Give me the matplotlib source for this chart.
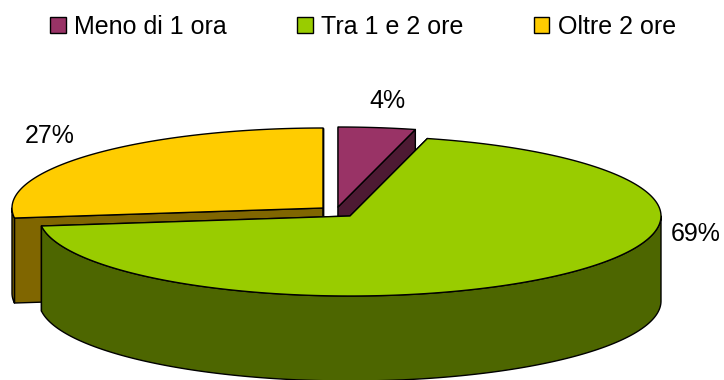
import numpy as np
import matplotlib
matplotlib.use("Agg")
import matplotlib.pyplot as plt
from matplotlib.patches import Patch, Polygon

categories = ["Meno di 1 ora", "Tra 1 e 2 ore", "Oltre 2 ore"]
values = [4, 69, 27]
top_colors = ["#993366", "#99cc00", "#ffcc00"]
side_colors = ["#4d1a33", "#4d6600", "#806600"]

# apex of each slice in pixels, the green one is the reference
apexes = [(338, 207), (350, 216), (323, 208)]
label_pos = [(387, 101), (696, 234), (50, 136)]
RX = 311
RY = 80
DEPTH = 85

plt.rcParams["font.family"] = ["Liberation Sans", "DejaVu Sans"]


def ellipse_points(apex, a0, a1):
    # angles are clockwise from 12 o'clock
    t = np.radians(np.linspace(a0, a1, 200))
    return np.column_stack((apex[0] + RX * np.sin(t), apex[1] - RY * np.cos(t)))


def add_poly(ax, pts, color, z):
    ax.add_patch(Polygon(pts, closed=True, facecolor=color, edgecolor="black",
                         linewidth=1.0, joinstyle="round", zorder=z))


def draw_slice(ax, apex, a0, a1, top, side, z):
    arc = ellipse_points(apex, a0, a1)
    down = np.array([0, DEPTH])
    ap = np.array(apex, dtype=float)

    # cut faces
    for edge in (arc[0], arc[-1]):
        add_poly(ax, [ap, edge, edge + down, ap + down], side, z)
    # outer wall, only the front part of the rim shows
    lo, hi = max(a0, 90), min(a1, 270)
    if lo < hi:
        rim = ellipse_points(apex, lo, hi)
        add_poly(ax, np.vstack((rim, (rim + down)[::-1])), side, z)
    add_poly(ax, np.vstack(([ap], arc)), top, z + 0.5)


fig = plt.figure(figsize=(7.24, 3.8), dpi=100)
ax = fig.add_axes([0, 0, 1, 1])
ax.set_xlim(0, 724)
ax.set_ylim(380, 0)
ax.axis("off")

edges = np.concatenate(([0], np.cumsum(values))) * 3.6
# back slices first, the big green one goes over them
for i, z in zip([2, 0, 1], [1, 2, 3]):
    draw_slice(ax, apexes[i], edges[i], edges[i + 1], top_colors[i], side_colors[i], z)

for v, (x, y) in zip(values, label_pos):
    ax.text(x, y, "{0}%".format(v), fontsize=18, ha="center", va="center",
            color="black", zorder=5)

handles = [Patch(facecolor=c, edgecolor="black", linewidth=1.0) for c in top_colors]
fig.legend(handles, categories, loc="upper left", bbox_to_anchor=(50 / 724, 1 - 15 / 380),
           ncol=3, frameon=False, fontsize=18, handlelength=0.62, handleheight=0.62,
           handletextpad=0.35, columnspacing=2.8, borderpad=0, borderaxespad=0)

fig.savefig("out.png", dpi=100)
